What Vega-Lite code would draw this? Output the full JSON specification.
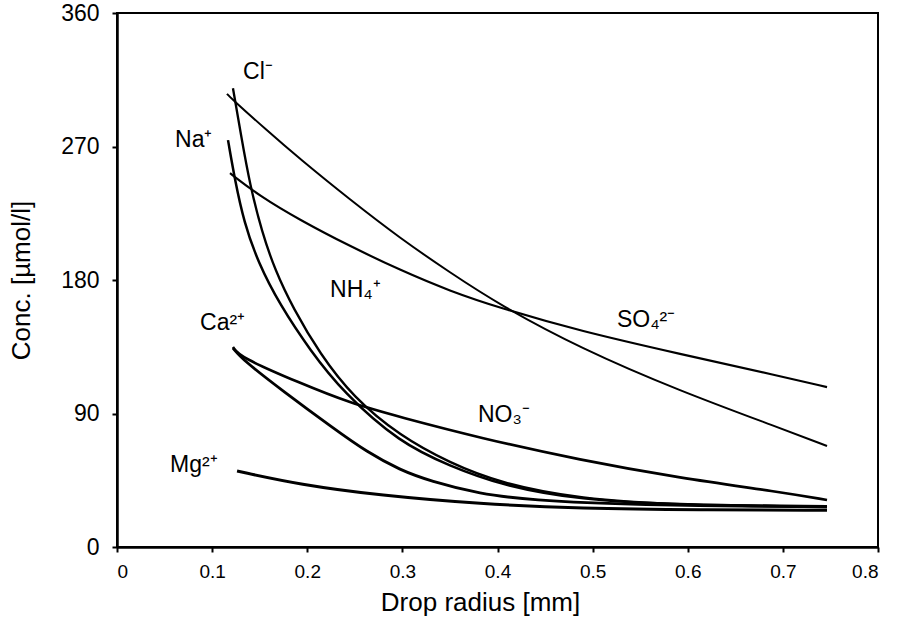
{
  "$schema": "https://vega.github.io/schema/vega-lite/v6.json",
  "width": 761,
  "height": 534,
  "autosize": {"type": "none"},
  "padding": {"left": 117, "top": 13, "right": 22, "bottom": 82},
  "background": "white",
  "config": {
    "view": {"stroke": "black", "strokeWidth": 2},
    "font": "Liberation Sans",
    "axis": {
      "grid": false,
      "domainColor": "black",
      "domainWidth": 2.5,
      "tickColor": "black",
      "tickWidth": 2,
      "tickSize": 5,
      "labelColor": "black",
      "titleFontSize": 26,
      "titleFontWeight": "normal",
      "titleColor": "black"
    }
  },
  "datasets": {
    "curves": [
      {"ion": "NH4", "r": 0.1156, "c": 305.5},
      {"ion": "NH4", "r": 0.1188, "c": 303.2},
      {"ion": "NH4", "r": 0.1556, "c": 282.0},
      {"ion": "NH4", "r": 0.1924, "c": 261.5},
      {"ion": "NH4", "r": 0.2449, "c": 234.2},
      {"ion": "NH4", "r": 0.2975, "c": 208.2},
      {"ion": "NH4", "r": 0.3501, "c": 185.0},
      {"ion": "NH4", "r": 0.4026, "c": 163.1},
      {"ion": "NH4", "r": 0.4867, "c": 134.1},
      {"ion": "NH4", "r": 0.5919, "c": 105.1},
      {"ion": "NH4", "r": 0.6970, "c": 80.2},
      {"ion": "NH4", "r": 0.7464, "c": 68.1},

      {"ion": "SO4", "r": 0.1188, "c": 252.0},
      {"ion": "SO4", "r": 0.1503, "c": 236.5},
      {"ion": "SO4", "r": 0.1924, "c": 220.4},
      {"ion": "SO4", "r": 0.2449, "c": 202.8},
      {"ion": "SO4", "r": 0.2975, "c": 186.7},
      {"ion": "SO4", "r": 0.3501, "c": 172.5},
      {"ion": "SO4", "r": 0.4026, "c": 161.1},
      {"ion": "SO4", "r": 0.4867, "c": 145.6},
      {"ion": "SO4", "r": 0.5919, "c": 130.1},
      {"ion": "SO4", "r": 0.6970, "c": 115.2},
      {"ion": "SO4", "r": 0.7464, "c": 107.8},

      {"ion": "Cl", "r": 0.1219, "c": 309.3},
      {"ion": "Cl", "r": 0.1304, "c": 277.6},
      {"ion": "Cl", "r": 0.1398, "c": 243.9},
      {"ion": "Cl", "r": 0.1524, "c": 212.3},
      {"ion": "Cl", "r": 0.1661, "c": 186.7},
      {"ion": "Cl", "r": 0.1850, "c": 161.1},
      {"ion": "Cl", "r": 0.2134, "c": 130.1},
      {"ion": "Cl", "r": 0.2481, "c": 101.1},
      {"ion": "Cl", "r": 0.2975, "c": 74.8},
      {"ion": "Cl", "r": 0.3501, "c": 56.6},
      {"ion": "Cl", "r": 0.4026, "c": 43.1},
      {"ion": "Cl", "r": 0.4867, "c": 32.3},
      {"ion": "Cl", "r": 0.5919, "c": 28.3},
      {"ion": "Cl", "r": 0.7464, "c": 27.6},

      {"ion": "Na", "r": 0.1167, "c": 274.3},
      {"ion": "Na", "r": 0.1240, "c": 247.3},
      {"ion": "Na", "r": 0.1335, "c": 219.0},
      {"ion": "Na", "r": 0.1482, "c": 192.0},
      {"ion": "Na", "r": 0.1714, "c": 163.1},
      {"ion": "Na", "r": 0.2029, "c": 132.7},
      {"ion": "Na", "r": 0.2376, "c": 104.4},
      {"ion": "Na", "r": 0.2975, "c": 70.1},
      {"ion": "Na", "r": 0.3501, "c": 54.6},
      {"ion": "Na", "r": 0.4026, "c": 41.8},
      {"ion": "Na", "r": 0.4867, "c": 31.7},
      {"ion": "Na", "r": 0.5919, "c": 28.3},
      {"ion": "Na", "r": 0.7464, "c": 27.0},

      {"ion": "NO3", "r": 0.1219, "c": 134.8},
      {"ion": "NO3", "r": 0.1293, "c": 128.0},
      {"ion": "NO3", "r": 0.1924, "c": 110.5},
      {"ion": "NO3", "r": 0.2449, "c": 97.0},
      {"ion": "NO3", "r": 0.2975, "c": 87.6},
      {"ion": "NO3", "r": 0.3816, "c": 73.5},
      {"ion": "NO3", "r": 0.4867, "c": 58.6},
      {"ion": "NO3", "r": 0.5919, "c": 46.5},
      {"ion": "NO3", "r": 0.6970, "c": 37.1},
      {"ion": "NO3", "r": 0.7464, "c": 31.7},

      {"ion": "Ca", "r": 0.1219, "c": 134.1},
      {"ion": "Ca", "r": 0.1325, "c": 126.0},
      {"ion": "Ca", "r": 0.1745, "c": 105.1},
      {"ion": "Ca", "r": 0.2271, "c": 80.2},
      {"ion": "Ca", "r": 0.2628, "c": 64.0},
      {"ion": "Ca", "r": 0.2975, "c": 51.9},
      {"ion": "Ca", "r": 0.3290, "c": 44.5},
      {"ion": "Ca", "r": 0.3816, "c": 35.7},
      {"ion": "Ca", "r": 0.4342, "c": 31.7},
      {"ion": "Ca", "r": 0.5393, "c": 28.3},
      {"ion": "Ca", "r": 0.7464, "c": 27.0},

      {"ion": "Mg", "r": 0.1262, "c": 51.2},
      {"ion": "Mg", "r": 0.1924, "c": 42.0},
      {"ion": "Mg", "r": 0.2765, "c": 34.8},
      {"ion": "Mg", "r": 0.3816, "c": 29.0},
      {"ion": "Mg", "r": 0.4867, "c": 25.9},
      {"ion": "Mg", "r": 0.6129, "c": 25.0},
      {"ion": "Mg", "r": 0.7464, "c": 24.8}
    ],
    "labels": [
      {"text": "Cl⁻", "r": 0.1325, "c": 320.1},
      {"text": "Na⁺", "r": 0.061, "c": 274.3},
      {"text": "NH₄⁺", "r": 0.224, "c": 173.2},
      {"text": "SO₄²⁻", "r": 0.5256, "c": 153.0},
      {"text": "Ca²⁺", "r": 0.0873, "c": 150.9},
      {"text": "NO₃⁻", "r": 0.3795, "c": 88.9},
      {"text": "Mg²⁺", "r": 0.0557, "c": 55.3}
    ]
  },
  "layer": [
    {
      "data": {"name": "curves"},
      "mark": {"type": "line", "interpolate": "basis", "color": "black"},
      "encoding": {
        "x": {
          "field": "r",
          "type": "quantitative",
          "scale": {"domain": [0, 0.8], "nice": false},
          "axis": {
            "title": "Drop radius [mm]",
            "values": [0, 0.1, 0.2, 0.3, 0.4, 0.5, 0.6, 0.7, 0.8],
            "format": "~g",
            "labelFontSize": 19,
            "labelPadding": 10,
            "titlePadding": 8,
            "titleX": 363
          }
        },
        "y": {
          "field": "c",
          "type": "quantitative",
          "scale": {"domain": [0, 360], "nice": false},
          "axis": {
            "title": "Conc. [µmol/l]",
            "values": [0, 90, 180, 270, 360],
            "labelFontSize": 23,
            "labelPadding": 13,
            "titlePadding": 26
          }
        },
        "detail": {"field": "ion", "type": "nominal"},
        "strokeWidth": {
          "field": "ion",
          "type": "nominal",
          "scale": {
            "domain": ["NH4", "SO4", "Cl", "Na", "NO3", "Ca", "Mg"],
            "range": [2, 3, 2.5, 2.5, 3, 2.5, 2.5]
          },
          "legend": null
        }
      }
    },
    {
      "data": {"name": "labels"},
      "mark": {"type": "text", "align": "left", "baseline": "middle", "fontSize": 23, "color": "black", "font": "Liberation Sans"},
      "encoding": {
        "x": {"field": "r", "type": "quantitative"},
        "y": {"field": "c", "type": "quantitative"},
        "text": {"field": "text"}
      }
    }
  ]
}
